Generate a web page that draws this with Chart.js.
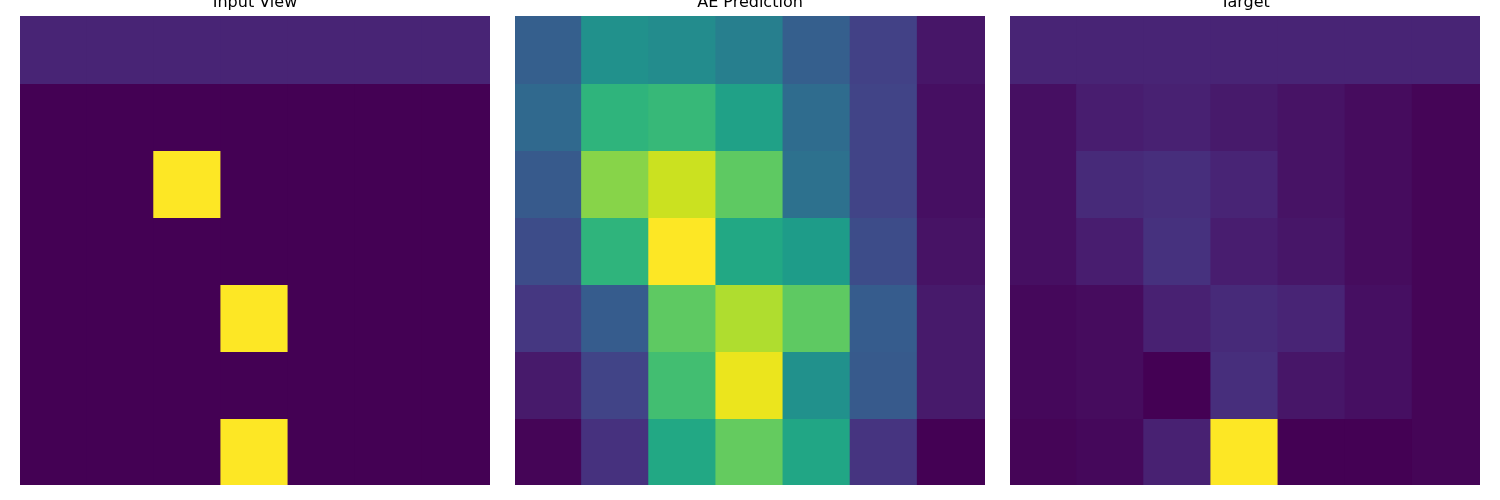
<!DOCTYPE html>
<html>
<head>
<meta charset="utf-8">
<script src="https://cdn.jsdelivr.net/npm/chart.js@4"></script>
<style>
  html, body { margin: 0; padding: 0; background: #fff; }
  #wrap { position: relative; width: 1500px; height: 500px; overflow: hidden; }
  .panel { position: absolute; top: -20px; width: 470px; height: 505px; }
</style>
</head>
<body>
<div id="wrap">
  <div class="panel" style="left:20px"><canvas id="c0"></canvas></div>
  <div class="panel" style="left:515px"><canvas id="c1"></canvas></div>
  <div class="panel" style="left:1010px"><canvas id="c2"></canvas></div>
</div>
<script>
const titles = ['Input View', 'AE Prediction', 'Target'];
const cols = ['0', '1', '2', '3', '4', '5', '6'];

// rows top -> bottom, normalized 0..1
const inputView = [
  [0.1, 0.1, 0.1, 0.1, 0.1, 0.1, 0.1],
  [0, 0, 0, 0, 0, 0, 0],
  [0, 0, 1, 0, 0, 0, 0],
  [0, 0, 0, 0, 0, 0, 0],
  [0, 0, 0, 1, 0, 0, 0],
  [0, 0, 0, 0, 0, 0, 0],
  [0, 0, 0, 1, 0, 0, 0]
];
const aePrediction = [
  [0.30, 0.50, 0.48, 0.43, 0.30, 0.19, 0.06],
  [0.34, 0.65, 0.67, 0.57, 0.35, 0.20, 0.04],
  [0.28, 0.82, 0.92, 0.75, 0.37, 0.20, 0.04],
  [0.23, 0.65, 1.00, 0.60, 0.55, 0.23, 0.05],
  [0.16, 0.29, 0.75, 0.88, 0.75, 0.29, 0.07],
  [0.07, 0.20, 0.70, 0.97, 0.50, 0.28, 0.07],
  [0.01, 0.14, 0.60, 0.76, 0.59, 0.15, 0.00]
];
const target = [
  [0.10, 0.10, 0.10, 0.10, 0.10, 0.10, 0.10],
  [0.04, 0.08, 0.09, 0.07, 0.05, 0.03, 0.01],
  [0.04, 0.12, 0.13, 0.10, 0.05, 0.03, 0.01],
  [0.04, 0.08, 0.14, 0.08, 0.06, 0.03, 0.01],
  [0.02, 0.03, 0.09, 0.12, 0.10, 0.04, 0.01],
  [0.02, 0.03, 0.00, 0.13, 0.06, 0.04, 0.01],
  [0.01, 0.02, 0.09, 1.00, 0.00, 0.00, 0.01]
];
const grids = [inputView, aePrediction, target];

// viridis stops every 0.05
const viridis = ['#440154','#471365','#482475','#463480','#414487','#3b528b','#355f8d',
  '#2f6c8e','#2a788e','#25848e','#21918c','#1e9c89','#22a884','#2fb47c','#42be71',
  '#5ec962','#7ad151','#9bd93c','#bddf26','#dfe318','#fde725'];

function hex(h) {
  return [parseInt(h.slice(1, 3), 16), parseInt(h.slice(3, 5), 16), parseInt(h.slice(5, 7), 16)];
}
function cmap(v) {
  v = Math.max(0, Math.min(1, v));
  const p = v * (viridis.length - 1);
  const i = Math.min(Math.floor(p), viridis.length - 2);
  const t = p - i;
  const a = hex(viridis[i]), b = hex(viridis[i + 1]);
  const c = a.map((x, k) => Math.round(x + (b[k] - x) * t));
  return 'rgb(' + c.join(',') + ')';
}

const titlePlugin = {
  id: 'panelTitle',
  afterDraw(chart, args, opts) {
    const c = chart.ctx;
    const a = chart.chartArea;
    c.save();
    c.fillStyle = '#000';
    c.font = '16px "DejaVu Sans"';
    c.textAlign = 'center';
    c.textBaseline = 'alphabetic';
    c.fillText(opts.text, (a.left + a.right) / 2, a.top - 9);
    c.restore();
  }
};

grids.forEach((grid, g) => {
  new Chart(document.getElementById('c' + g), {
    type: 'bar',
    data: {
      labels: cols,
      datasets: grid.map(row => ({
        data: row.map(() => 1),
        backgroundColor: row.map(cmap),
        borderWidth: 0,
        inflateAmount: 1,
        barPercentage: 1,
        categoryPercentage: 1
      }))
    },
    options: {
      responsive: true,
      maintainAspectRatio: false,
      animation: false,
      layout: { padding: { top: 36, left: 0, right: 0, bottom: 0 } },
      plugins: {
        legend: { display: false },
        tooltip: { enabled: false },
        panelTitle: { text: titles[g] }
      },
      scales: {
        x: { stacked: true, display: false },
        y: { stacked: true, display: false, min: 0, max: 7, reverse: true }
      }
    },
    plugins: [titlePlugin]
  });
});
</script>
</body>
</html>
